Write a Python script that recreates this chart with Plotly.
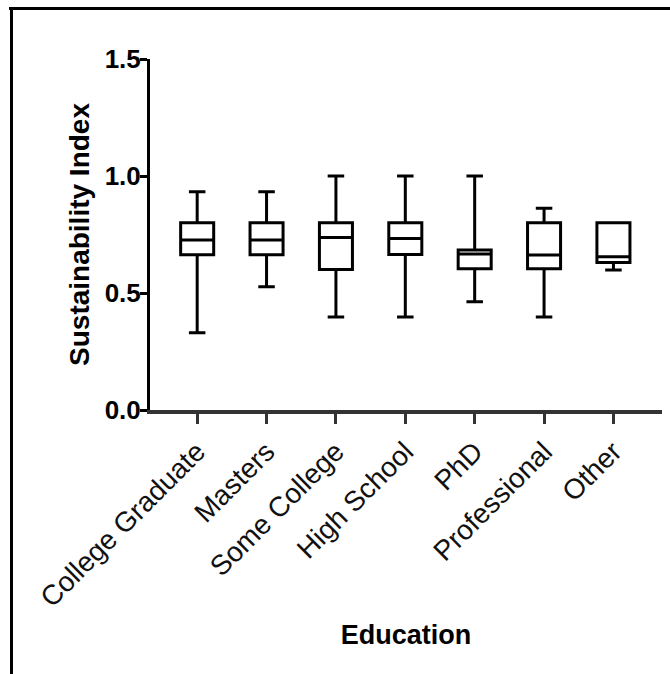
import plotly.graph_objects as go

categories = ["College Graduate", "Masters", "Some College", "High School",
              "PhD", "Professional", "Other"]
upper_whisker = [0.933, 0.933, 1.0, 1.0, 1.0, 0.862, 0.8]
q3_values = [0.8, 0.8, 0.8, 0.8, 0.684, 0.8, 0.8]
median_values = [0.727, 0.727, 0.737, 0.733, 0.667, 0.662, 0.655]
q1_values = [0.663, 0.663, 0.6, 0.665, 0.604, 0.604, 0.63]
lower_whisker = [0.33, 0.527, 0.397, 0.397, 0.463, 0.397, 0.598]
y_ticks = [0.0, 0.5, 1.0, 1.5]
y_tick_labels = ["0.0", "0.5", "1.0", "1.5"]

W, H = 670, 674
L, R, T, B = 150, 8, 59, 264
PW, PH = W - L - R, H - T - B

def px(x):
    return (x - L) / PW

def py(y):
    return (H - B - y) / PH

fig = go.Figure()
fig.add_trace(go.Box(
    x=categories,
    q1=q1_values,
    median=median_values,
    q3=q3_values,
    lowerfence=lower_whisker,
    upperfence=upper_whisker,
    fillcolor="white",
    line=dict(color="black", width=3),
    whiskerwidth=0.5,
    boxpoints=False,
    showlegend=False,
    hoverinfo="skip",
))

fig.update_layout(
    width=W, height=H,
    margin=dict(l=L, r=R, t=T, b=B, pad=0),
    paper_bgcolor="white",
    plot_bgcolor="white",
    boxgap=0.32,
    font=dict(family="Liberation Sans, Arial, sans-serif", color="black"),
    xaxis=dict(
        type="category",
        range=[-0.68, 6.7],
        showline=True, linecolor="#333333", linewidth=4,
        ticks="outside", ticklen=10, tickwidth=3, tickcolor="#333333",
        tickangle=-45,
        tickfont=dict(size=28, color="#111111"),
        showgrid=False, zeroline=False,
        title=dict(text="<b>Education</b>", font=dict(size=27), standoff=14),
        automargin=False,
    ),
    yaxis=dict(
        range=[0, 1.5],
        tickvals=y_ticks, ticktext=["<b>%s</b>" % t for t in y_tick_labels],
        showline=True, linecolor="black", linewidth=3,
        ticks="outside", ticklen=7, tickwidth=3, tickcolor="black",
        ticklabelstandoff=-6,
        tickfont=dict(size=26),
        showgrid=False, zeroline=False,
        title=dict(text="<b>Sustainability Index</b>", font=dict(size=28), standoff=7),
        automargin=False,
    ),
    shapes=[
        dict(type="line", xref="paper", yref="paper",
             x0=px(9), x1=px(670), y0=py(8.5), y1=py(8.5),
             line=dict(color="black", width=3)),
        dict(type="line", xref="paper", yref="paper",
             x0=px(11.5), x1=px(11.5), y0=py(7), y1=py(674),
             line=dict(color="black", width=3)),
    ],
)

fig.write_html("out.html")
